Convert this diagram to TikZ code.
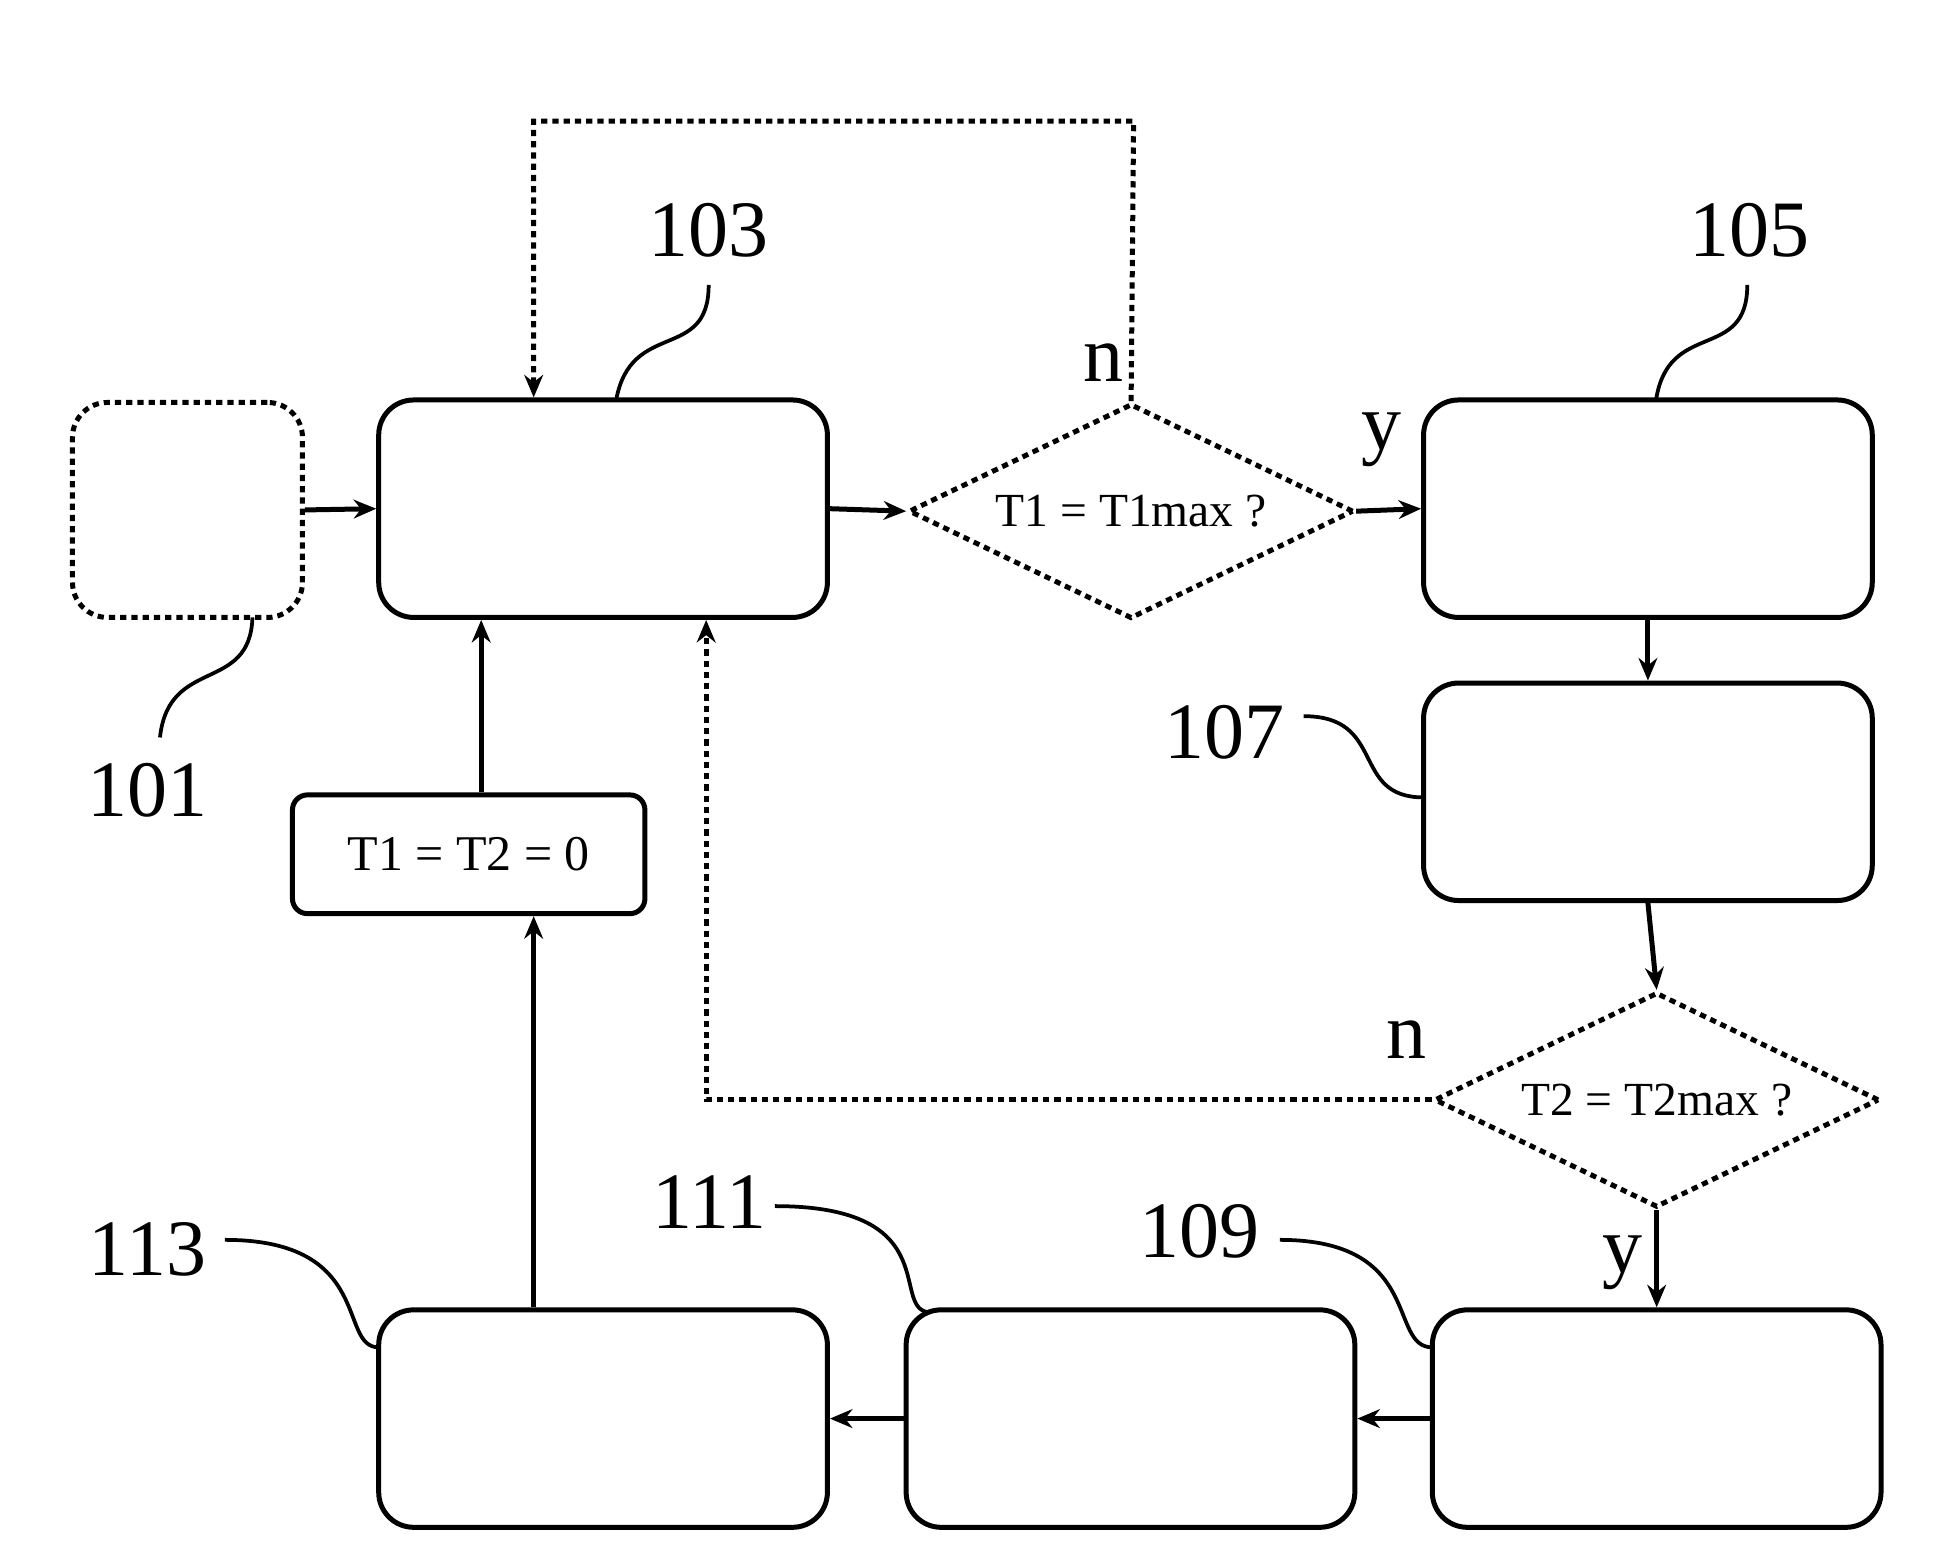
\documentclass[tikz,border=0pt]{standalone}
\usepackage{fontspec}
\setmainfont{Liberation Serif}
\usetikzlibrary{arrows.meta,shapes.geometric}
\begin{document}
\begin{tikzpicture}[x=1pt,y=-1pt,
  box/.style={draw,line width=4pt,rounded corners=28pt,minimum width=359pt,minimum height=174pt,inner sep=0},
  dot/.style={line width=4pt,dash pattern=on 5pt off 4pt},
  dia/.style={draw,dot,diamond,aspect=2.08,minimum width=356pt,minimum height=172pt,inner sep=0,font=\fontsize{38}{40}\selectfont},
  arr/.style={line width=4pt,-{Stealth[length=18pt,width=15pt]}},
  lbl/.style={font=\fontsize{64}{66}\selectfont,inner sep=0},
  lead/.style={line width=3pt}]
\useasboundingbox (0,0) rectangle (1557,1240);
\node[box,dot,minimum width=184pt,minimum height=172pt] (b101) at (150,408) {};
\node[box] (b103) at (482.5,407) {};
\node[dia] (d1) at (905,409) {T1 = T1max ?};
\node[box] (b105) at (1318.5,407) {};
\node[box] (b107) at (1318.5,633.5) {};
\node[dia] (d2) at (1325.5,880) {T2 = T2max ?};
\node[box] (b109) at (1325.5,1135) {};
\node[box] (b111) at (904.5,1135) {};
\node[box] (b113) at (482.5,1135) {};
\node[draw,line width=4pt,rounded corners=12pt,minimum width=282pt,minimum height=95pt,inner sep=0,font=\fontsize{40}{42}\selectfont] (t0) at (375,683.5) {T1 = T2 = 0};
% arrows
\draw[arr] (b101.east) -- (b103.west);
\draw[arr] (b103.east) -- (d1.west);
\draw[arr] (d1.east) -- (b105.west);
\draw[arr] (b105.south) -- (b107.north);
\draw[arr] (b107.south) -- (d2.north);
\draw[arr] (d2.south) -- (b109.north);
\draw[arr] (b109.west) -- (b111.east);
\draw[arr] (b111.west) -- (b113.east);
\draw[arr] (b113.north -| 427,0) -- (t0.south -| 427,0);
\draw[arr] (t0.north -| 385,0) -- (b103.south -| 385,0);
\coordinate (c1) at (907,97); \coordinate (c2) at (427,97);
\draw[arr,dot] (d1.north) -- (c1) -- (c2) -- (b103.north -| c2);
\coordinate (c3) at (565,880);
\draw[arr,dot] (d2.west) -- (c3) -- (b103.south -| c3);
% decision labels
\node[lbl] (ln1) at (883,290) {n};
\node[lbl] (ly1) at (1105,352) {y};
\node[lbl] (ln2) at (1125,832) {n};
\node[lbl] (ly2) at (1298,1010) {y};
% numbers
\node[lbl] (n103) at (567,184) {103};
\node[lbl] (n105) at (1400,184) {105};
\node[lbl] (n101) at (118,632) {101};
\node[lbl] (n107) at (980,586) {107};
\node[lbl] (n113) at (118,1000) {113};
\node[lbl] (n111) at (568,962) {111};
\node[lbl] (n109) at (960,985) {109};
\draw[lead] (567,228) .. controls (567,290) and (505,255) .. (493,320);
\draw[lead] (1398,228) .. controls (1398,290) and (1335,255) .. (1325,320);
\draw[lead] (202,494) .. controls (200,555) and (135,525) .. (128,590);
\draw[lead] (1043,573) .. controls (1110,573) and (1080,638) .. (1139,638);
\draw[lead] (180,992) .. controls (300,992) and (270,1078) .. (303,1078);
\draw[lead] (620,965) .. controls (760,965) and (710,1050) .. (745,1050);
\draw[lead] (1024,992) .. controls (1140,992) and (1110,1078) .. (1146,1078);
\end{tikzpicture}
\end{document}
